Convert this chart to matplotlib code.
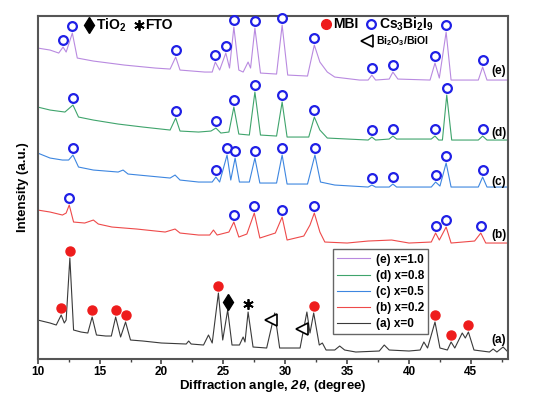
import numpy as np
import matplotlib
matplotlib.use('Agg')
import matplotlib.pyplot as plt

plt.rcParams['font.family'] = ['Liberation Sans', 'DejaVu Sans']
plt.rcParams['mathtext.fontset'] = 'custom'
plt.rcParams['mathtext.rm'] = 'Liberation Sans:bold'
plt.rcParams['mathtext.bf'] = 'Liberation Sans:bold'
plt.rcParams['mathtext.bfit'] = 'Liberation Sans:bold:italic'

# traces (2theta, intensity in arbitrary units, already offset)
a_tt = [10.0, 11.0, 11.5, 11.7, 11.9, 12.15, 12.3, 12.6, 12.9, 13.5, 14.05, 14.4, 14.75, 15.5,
        15.95, 16.3, 16.7, 17.1, 17.5, 18.5, 20.0, 22.0, 22.2, 22.4, 23.4, 23.8, 24.1, 24.6,
        24.95, 25.35, 25.7, 26.3, 26.6, 26.75, 27.0, 27.4, 28.5, 29.15, 29.55, 31.2, 31.75,
        32.0, 32.3, 32.75, 33.0, 33.3, 34.0, 34.4, 34.8, 35.7, 37.6, 38.0, 38.4, 40.0, 40.9,
        41.2, 41.5, 42.1, 42.5, 43.1, 43.4, 43.7, 44.3, 44.55, 44.8, 45.25, 46.5, 46.8, 47.1,
        47.6, 48.0]
a_int = [39, 36, 34, 39, 44, 36, 39, 101, 29, 27, 26, 42, 24, 23,
         23, 42, 22, 37, 19, 18, 16, 15, 18, 15, 14, 24, 16, 66,
         19, 49, 14, 14, 22, 17, 47, 12, 11, 46, 11, 11, 47,
         26, 46, 14, 16, 9, 9, 13, 9, 7, 8, 14, 9, 8, 9,
         17, 11, 37, 11, 9, 17, 11, 26, 21, 27, 9, 7, 10, 7,
         12, 7]

b_tt = [10.0, 11.0, 12.0, 12.3, 12.55, 12.9, 13.8, 14.5, 14.9, 16.0, 18.0, 20.3, 21.1, 21.5,
        23.0, 23.9, 24.2, 24.5, 25.45, 25.85, 26.25, 26.9, 27.5, 27.95, 29.2, 29.75, 30.15, 31.5,
        32.0, 32.35, 32.8, 33.2, 35.0, 36.7, 38.6, 40.0, 41.8, 42.15, 42.45, 43.0, 43.4, 45.3,
        45.8, 46.2, 48.0]
b_int = [149, 147, 144, 146, 154, 137, 136, 139, 135, 132, 130, 127, 130, 126,
         124, 124, 129, 124, 127, 137, 122, 125, 146, 121, 126, 142, 119, 123,
         134, 146, 127, 117, 116, 118, 119, 116, 117, 126, 119, 132, 116, 118,
         126, 116, 116]

c_tt = [10.0, 11.0, 12.0, 12.5, 12.85, 13.3, 14.5, 16.5, 16.9, 17.3, 19.0, 20.7, 21.1, 21.5,
        23.0, 24.1, 24.4, 24.7, 25.3, 25.6, 25.95, 26.3, 27.1, 27.55, 27.95, 29.3, 29.75, 30.15,
        31.8, 32.4, 32.85, 34.0, 36.7, 37.0, 37.3, 38.4, 38.7, 39.0, 41.8, 42.15, 42.5, 43.0,
        43.4, 45.6, 45.95, 46.3, 48.0]
c_int = [206, 201, 199, 199, 204, 192, 189, 187, 189, 185, 183, 181, 184, 179,
         177, 177, 182, 177, 204, 179, 201, 177, 177, 201, 176, 176, 204, 175,
         175, 204, 177, 174, 172, 174, 172, 172, 175, 172, 172, 177, 173, 196,
         172, 172, 182, 172, 172]

d_tt = [10.0, 11.0, 12.2, 12.85, 13.3, 14.5, 16.5, 18.5, 20.7, 21.15, 21.5, 23.0, 24.0, 24.4,
        24.8, 25.45, 25.85, 26.25, 27.1, 27.55, 28.0, 29.3, 29.75, 30.15, 31.9, 32.35, 32.8,
        33.4, 36.7, 37.0, 37.3, 38.4, 38.7, 39.0, 41.8, 42.1, 42.4, 42.7, 43.05, 43.45, 45.6,
        45.95, 46.3, 48.0]
d_int = [252, 249, 247, 254, 242, 239, 235, 232, 229, 241, 228, 227, 228, 231,
         226, 227, 252, 225, 224, 267, 224, 223, 257, 222, 222, 242, 229,
         221, 219, 222, 219, 220, 223, 220, 220, 223, 219, 219, 264, 219, 219,
         223, 219, 219]

e_tt = [10.0, 11.0, 11.7, 12.05, 12.3, 12.8, 13.2, 14.5, 17.0, 19.5, 20.7, 21.15, 21.5, 23.5,
        24.1, 24.35, 24.7, 25.2, 25.5, 25.85, 26.25, 26.6, 27.0, 27.2, 27.55, 28.0, 29.3,
        29.75, 30.2, 31.8, 32.35, 32.8, 33.4, 34.0, 36.0, 36.7, 37.0, 37.3, 38.4, 38.7, 39.1,
        41.7, 42.1, 42.45, 43.0, 43.4, 45.6, 45.95, 46.3, 48.0]
e_int = [311, 309, 306, 312, 307, 326, 301, 298, 294, 291, 290, 302, 289, 287,
         287, 297, 289, 306, 291, 332, 289, 287, 297, 291, 331, 286, 285,
         334, 284, 283, 314, 297, 287, 282, 279, 279, 284, 279, 280, 287, 280,
         279, 296, 281, 327, 279, 279, 292, 279, 279]

labels = ['(a) x=0', '(b) x=0.2', '(c) x=0.5', '(d) x=0.8', '(e) x=1.0']
colors = ['#3a3a3a', '#ee4a4a', '#3d86e0', '#3fa46c', '#b98ae0']

# phase markers (2theta positions)
mbi_a = [11.9, 12.6, 14.4, 16.3, 17.1, 24.6, 32.3, 42.1, 43.4, 44.8]
cs_b = [12.55, 25.85, 27.5, 29.75, 32.35, 42.15, 43.0, 45.8]
cs_c = [12.85, 24.4, 25.3, 25.95, 27.55, 29.75, 32.4, 37.0, 38.7, 42.15, 43.0, 45.95]
cs_d = [12.85, 21.15, 24.4, 25.85, 27.55, 29.75, 32.35, 37.0, 38.7, 42.1, 43.05, 45.95]
cs_e = [12.05, 12.8, 21.15, 24.35, 25.2, 25.85, 27.55, 29.75, 32.35, 37.0, 38.7, 42.1, 43.0,
        45.95]
tio2_a = [25.35]
fto_a = [27.0]
bioi_a = [28.85, 31.35]

traces = [(a_tt, a_int), (b_tt, b_int), (c_tt, c_int), (d_tt, d_int), (e_tt, e_int)]

fig = plt.figure(figsize=(5.36, 3.94), dpi=100)
ax = fig.add_axes([0.0703, 0.0888, 0.8775, 0.8712])

for (tt, inten), col, lab in zip(traces, colors, labels):
    ax.plot(tt, inten, color=col, lw=0.8, label=lab)


def mark(tt_list, trace, off, **kw):
    tt, inten = trace
    y = np.interp(tt_list, tt, inten) + off
    ax.plot(tt_list, y, ls='none', zorder=5, clip_on=False, **kw)


circ = dict(marker='o', ms=6.3, mfc='white', mec='#1f1fe6', mew=1.6)
for pos, tr in zip([cs_b, cs_c, cs_d, cs_e], traces[1:]):
    mark(pos, tr, 7, **circ)
mark(mbi_a, traces[0], 7, marker='o', ms=6.5, mfc='#ee1c1c', mec='#ee1c1c')
mark(tio2_a, traces[0], 8, marker='d', ms=8, color='black')
mark(fto_a, traces[0], 8, marker=(6, 2, 0), ms=7.5, mew=1.3, color='black')
mark(bioi_a, traces[0], 9, marker='<', ms=8, mfc='white', mec='black', mew=1.2)

# phase key at the top
ax.plot([14.16], [334], marker='d', ms=8, color='black', clip_on=False)
ax.text(14.75, 334, 'TiO$_2$', fontsize=10, fontweight='bold', va='center')
ax.plot([18.2], [334], marker=(6, 2, 0), ms=7.5, mew=1.3, color='black', clip_on=False)
ax.text(18.65, 334, 'FTO', fontsize=10, fontweight='bold', va='center')
ax.plot([33.3], [335], marker='o', ms=7, color='#ee1c1c', clip_on=False)
ax.text(33.9, 335, 'MBI', fontsize=10, fontweight='bold', va='center')
ax.plot([36.95], [335], **circ)
ax.text(37.6, 335, 'Cs$_3$Bi$_2$I$_9$', fontsize=10, fontweight='bold', va='center')
ax.plot([36.6], [318], marker='<', ms=8, mfc='white', mec='black', mew=1.2)
ax.text(37.3, 318, 'Bi$_2$O$_3$/BiOI', fontsize=7.5, fontweight='bold', va='center')

# sample labels on the right
for lab_y, txt in zip([19, 124, 177, 226, 288], ['(a)', '(b)', '(c)', '(d)', '(e)']):
    ax.text(47.85, lab_y, txt, fontsize=8.5, fontweight='bold', ha='right', va='center')

ax.set_xlim(10, 48)
ax.set_ylim(0, 343.3)
ax.set_yticks([])
ax.set_xticks([10, 15, 20, 25, 30, 35, 40, 45])
ax.set_xticks(np.arange(12.5, 48, 5), minor=True)
ax.tick_params(axis='x', which='major', direction='out', length=3.5, width=1.2,
               labelsize=8.5, pad=1.5, color='#444')
ax.tick_params(axis='x', which='minor', direction='out', length=2.5, width=1.0, color='#444')
for lab in ax.get_xticklabels():
    lab.set_fontweight('bold')
for s in ax.spines.values():
    s.set_linewidth(1.5)
    s.set_color('#555555')

ax.set_xlabel(r'Diffraction angle, $\mathbfit{2\theta}$, (degree)', fontsize=9.5,
              fontweight='bold', labelpad=0)
ax.set_ylabel('Intensity (a.u.)', fontsize=9.5, fontweight='bold', labelpad=6)

h, l = ax.get_legend_handles_labels()
leg = ax.legend(h[::-1], l[::-1], loc='lower left', bbox_to_anchor=(0.615, 0.055),
                prop={'weight': 'bold', 'size': 8.5}, fancybox=False,
                edgecolor='#666666', framealpha=1, handlelength=2.8, labelspacing=0.35,
                borderpad=0.35, handletextpad=0.5)
leg.get_frame().set_linewidth(1.0)

fig.savefig('out.png', dpi=100)
